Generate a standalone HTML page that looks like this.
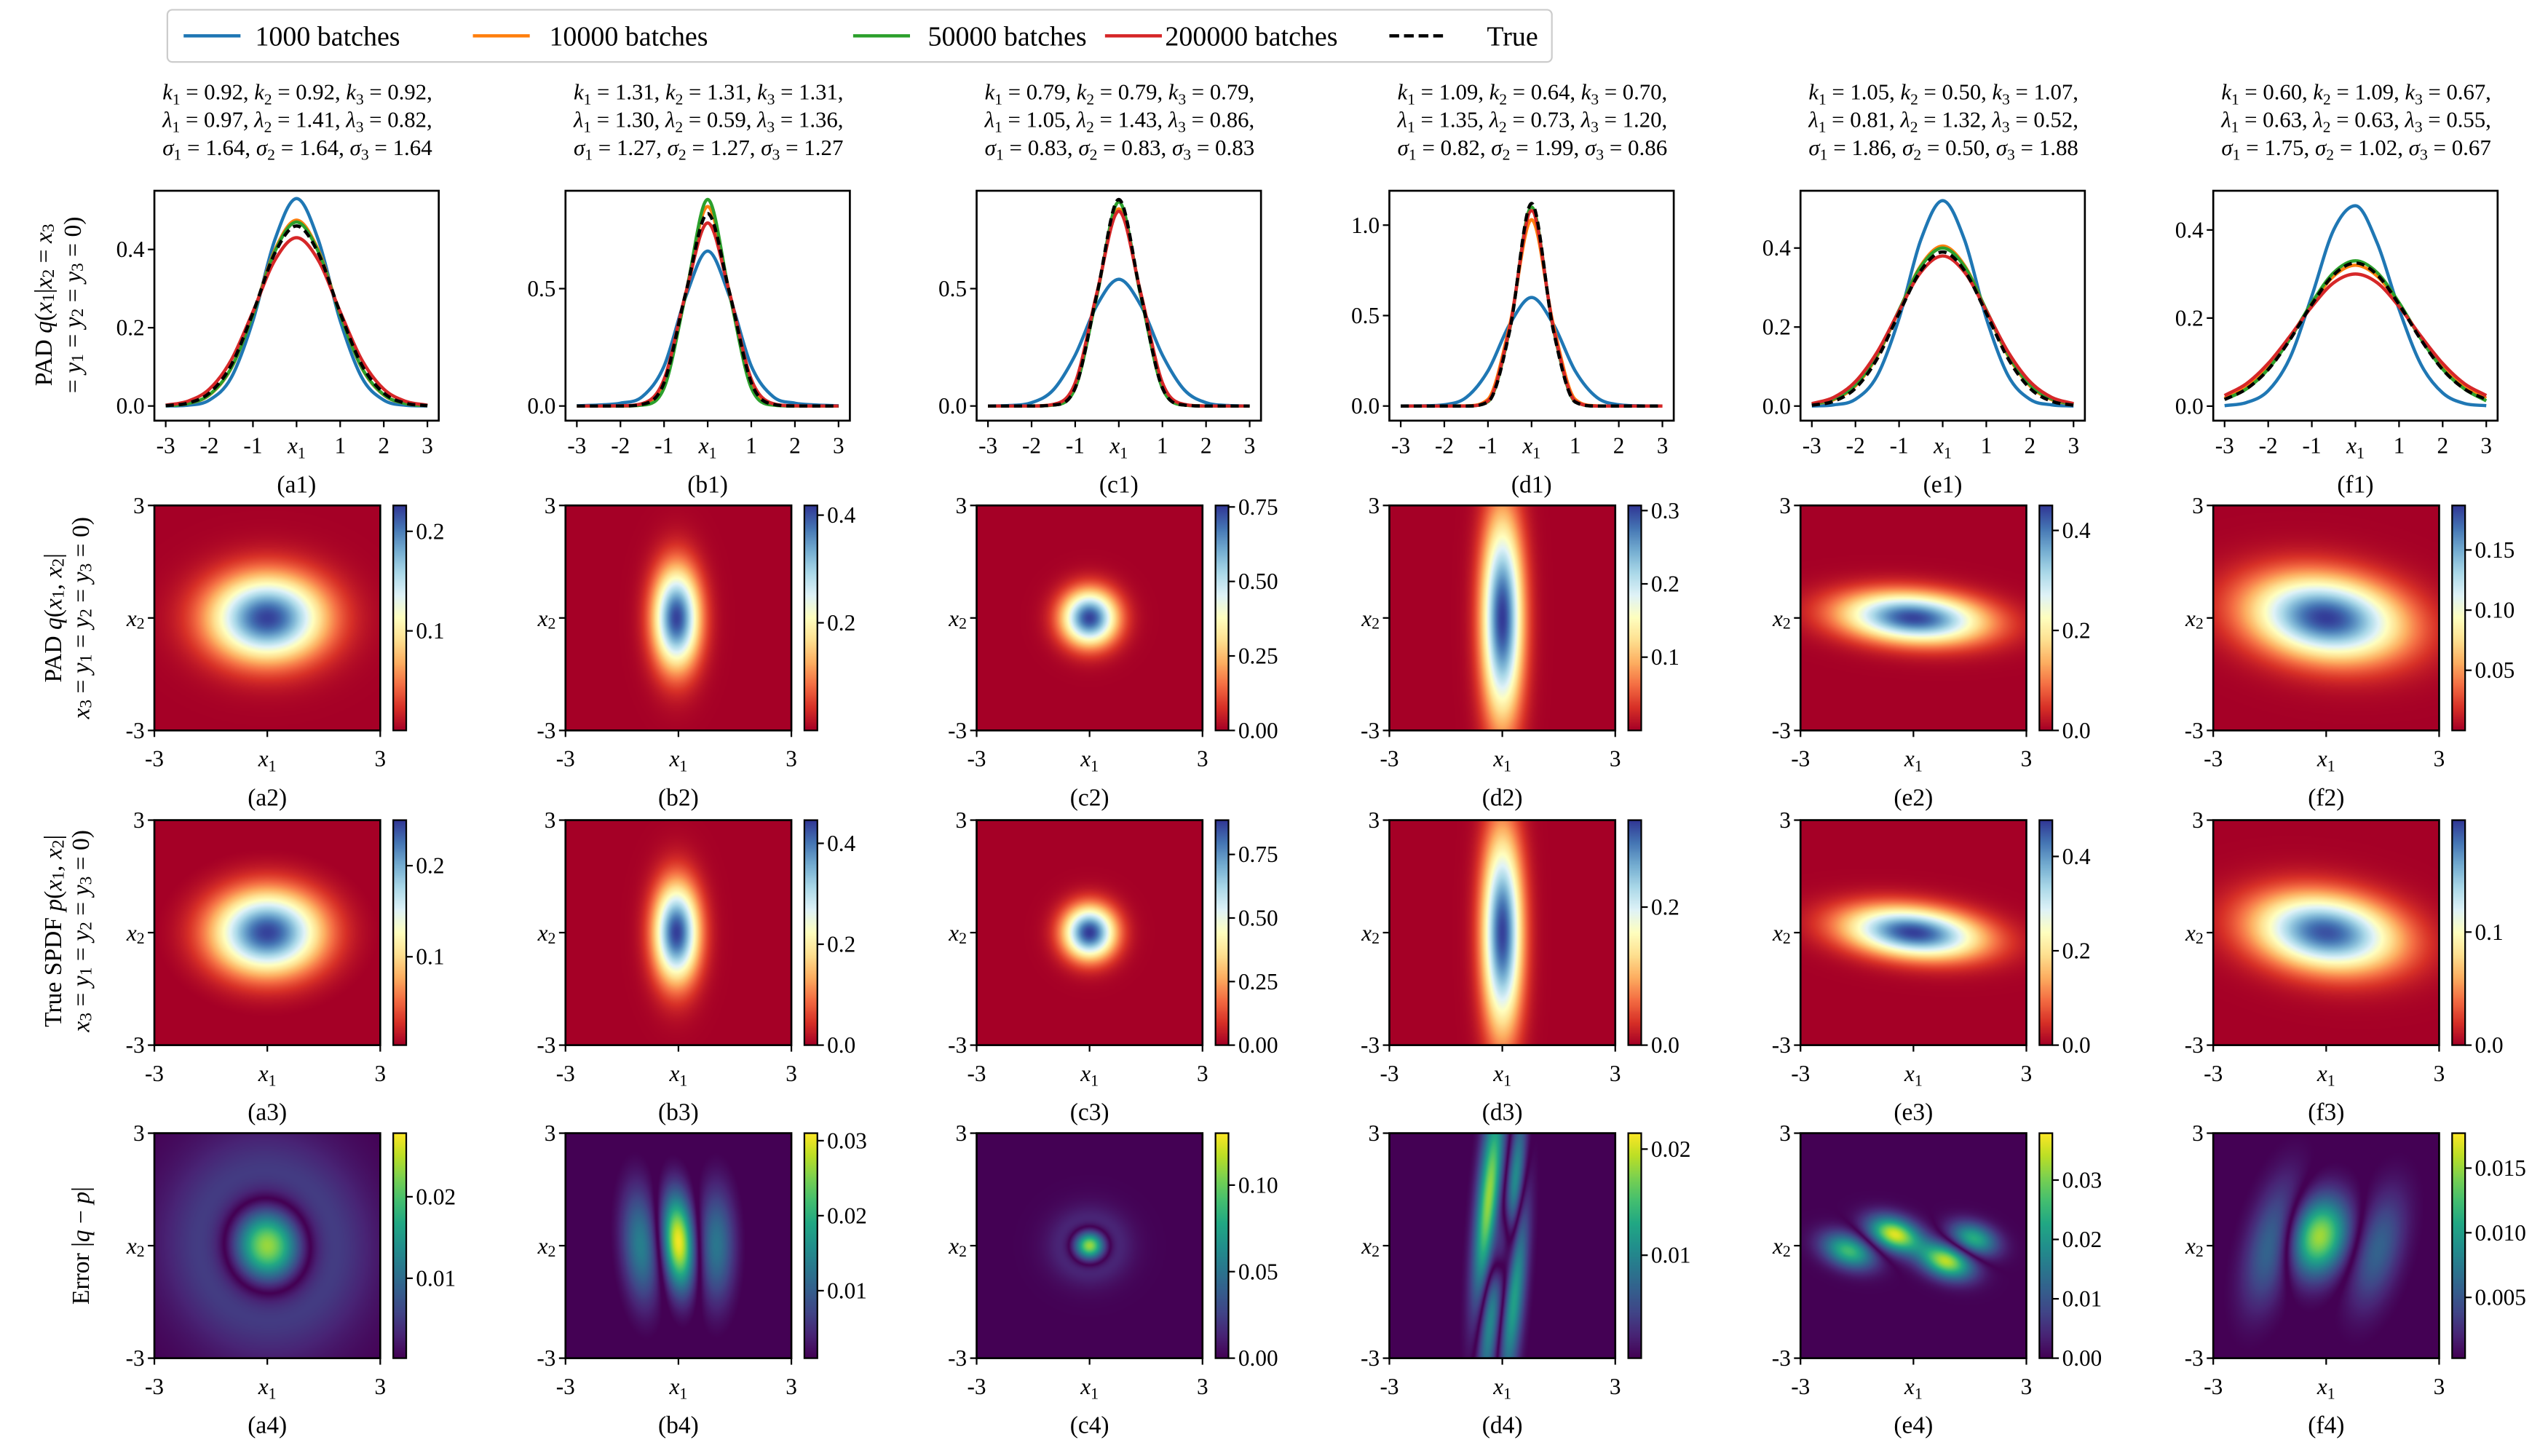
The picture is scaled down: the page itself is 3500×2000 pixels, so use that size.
<!DOCTYPE html>
<html><head><meta charset="utf-8">
<style>
html,body{margin:0;padding:0;background:#fff;}
body{width:3500px;height:2000px;overflow:hidden;position:relative;}
#root{position:absolute;left:0;top:0;width:1568px;height:893px;transform:scale(2.232143,2.239642);transform-origin:0 0;}
#root canvas{position:absolute;}
#svg{position:absolute;left:0;top:0;}
text{font-family:"Liberation Serif","DejaVu Serif",serif;fill:#000;}
</style></head>
<body>
<div id="root">
<svg id="svg" width="1568" height="893" viewBox="0 0 1568 893" xmlns="http://www.w3.org/2000/svg"></svg>
</div>
<script>
// ---------------- data ----------------
const xGrid = [-3,-2.5,-2,-1.5,-1,-0.5,0,0.5,1,1.5,2,2.5,3];
const seriesLabels = ['1000 batches','10000 batches','50000 batches','200000 batches','True'];
const curveBlue = [
 [0,.002,.015,.072,.218,.424,.53,.424,.218,.072,.015,.002,0],
 [.001,.004,.012,.04,.17,.467,.66,.467,.17,.04,.012,.004,.001],
 [0,.002,.014,.069,.217,.43,.54,.43,.217,.069,.014,.002,0],
 [0,.001,.007,.047,.194,.452,.60,.452,.194,.047,.007,.001,0],
 [0,.003,.017,.077,.222,.421,.52,.421,.222,.077,.017,.003,0],
 [.001,.008,.035,.11,.25,.40,.455,.37,.22,.095,.03,.006,.001]];
const curveOrange = [
 [.001,.006,.028,.096,.234,.398,.475,.398,.234,.096,.028,.006,.001],
 [0,0,0,.005,.088,.483,.85,.483,.088,.005,0,0,0],
 [0,0,0,.006,.091,.483,.84,.483,.091,.006,0,0,0],
 [0,0,0,.001,.037,.448,1.03,.448,.037,.001,0,0,0],
 [.004,.016,.051,.127,.242,.356,.405,.356,.242,.127,.051,.016,.004],
 [.018,.043,.089,.156,.232,.295,.32,.295,.232,.156,.089,.043,.018]];
const curveGreen = [
 [.001,.006,.029,.097,.233,.394,.47,.394,.233,.097,.029,.006,.001],
 [0,0,0,.004,.077,.478,.88,.478,.077,.004,0,0,0],
 [0,0,0,.004,.076,.472,.87,.472,.076,.004,0,0,0],
 [0,0,0,0,.024,.425,1.10,.425,.024,0,0,0,0],
 [.004,.018,.054,.130,.243,.353,.40,.353,.243,.130,.054,.018,.004],
 [.015,.039,.084,.153,.235,.303,.33,.303,.235,.153,.084,.039,.012]];
const curveRed = [
 [.002,.012,.043,.117,.241,.372,.43,.372,.241,.117,.043,.012,.002],
 [0,0,.001,.010,.114,.482,.78,.482,.114,.010,.001,0,0],
 [0,0,0,.007,.099,.484,.83,.484,.099,.007,0,0,0],
 [0,0,0,0,.028,.434,1.08,.434,.028,0,0,0,0],
 [.006,.022,.062,.137,.241,.339,.38,.339,.241,.137,.062,.022,.006],
 [.024,.051,.097,.159,.226,.280,.30,.280,.226,.159,.097,.051,.024]];
const curveTrue = [
 [.001,.007,.033,.104,.238,.390,.46,.390,.238,.104,.033,.007,.001],
 [0,0,0,.007,.099,.484,.82,.484,.099,.007,0,0,0],
 [0,0,0,.004,.077,.478,.88,.478,.077,.004,0,0,0],
 [0,0,0,0,.022,.418,1.12,.418,.022,0,0,0,0],
 [.002,.012,.045,.12,.235,.343,.39,.343,.235,.12,.045,.012,.002],
 [.015,.039,.083,.151,.231,.298,.325,.298,.231,.151,.083,.039,.015]];
const yDomain1 = [[-0.0375,0.55],[-0.0625,0.917],[-0.0625,0.917],[-0.081,1.19],[-0.037,0.545],[-0.033,0.489]];
const yTicks1 = [[0,0.2,0.4],[0,0.5],[0,0.5],[0,0.5,1.0],[0,0.2,0.4],[0,0.2,0.4]];
const yTickLabels1 = [['0.0','0.2','0.4'],['0.0','0.5'],['0.0','0.5'],['0.0','0.5','1.0'],['0.0','0.2','0.4'],['0.0','0.2','0.4']];
const xTicks1 = [-3,-2,-1,0,1,2,3];
const xTickLabels1 = ['-3','-2','-1','x1','1','2','3'];

// blobs: [cx, cy, sigmaX, sigmaY, amplitude, angleDeg]  (data units)
const qBlobs = [
 [[0,0,1.05,0.78,0.222,0]],
 [[-0.05,0,0.42,0.92,0.41,0]],
 [[0,0,0.5,0.5,0.74,0]],
 [[0,0,0.37,1.85,0.305,0]],
 [[0,0,1.3,0.45,0.44,-4]],
 [[0,0,1.4,0.75,0.185,-8]]];
const pBlobs = [
 [[0,0,1.0,0.76,0.245,0]],
 [[-0.05,0,0.41,0.9,0.44,0]],
 [[0,0,0.47,0.48,0.88,0]],
 [[0,0,0.36,1.8,0.32,0]],
 [[0,0,1.25,0.45,0.47,-6]],
 [[0,0,1.32,0.68,0.19,-8]]];
const errBlobs = [
 [[0,0,0.7,0.78,0.036,10],[0,0,1.55,1.7,-0.0125,10]],
 [[0,0.1,0.3,0.9,0.031,4],[-1.0,0,0.35,1.1,-0.014,4],[1.0,0,0.35,1.1,-0.013,0]],
 [[0,0,0.3,0.28,0.15,0],[0,0,0.62,0.58,-0.04,0]],
 [[-0.35,1.1,0.22,2.0,0.02,-5],[0.32,1.2,0.16,1.6,-0.014,-5],[-0.3,-1.4,0.2,1.8,-0.014,-5],[0.3,-1.2,0.2,1.8,0.014,-5],[0,0,0.2,0.8,0.01,-10]],
 [[-0.5,0.3,0.5,0.3,0.036,-20],[-1.72,-0.14,0.5,0.3,-0.026,-20],[0.87,-0.41,0.5,0.3,0.034,-20],[1.6,0.18,0.45,0.28,-0.024,-20]],
 [[-0.2,0.25,0.55,0.75,0.0155,-15],[-1.4,0.1,0.45,1.2,-0.007,-15],[1.35,-0.1,0.45,1.1,-0.006,-15]]];

const cbarRange2 = [[0,0.226],[0,0.418],[0,0.755],[0,0.307],[0,0.45],[0,0.187]];
const cbarRange3 = [[0.003,0.25],[0,0.446],[0,0.885],[0,0.326],[0,0.477],[0,0.199]];
const cbarRange4 = [[0.0002,0.0278],[0.001,0.031],[0,0.130],[0.0003,0.0215],[0,0.0379],[0.0003,0.0177]];
const cbarTicks2 = [[0.1,0.2],[0.2,0.4],[0,0.25,0.5,0.75],[0.1,0.2,0.3],[0,0.2,0.4],[0.05,0.10,0.15]];
const cbarLabels2 = [['0.1','0.2'],['0.2','0.4'],['0.00','0.25','0.50','0.75'],['0.1','0.2','0.3'],['0.0','0.2','0.4'],['0.05','0.10','0.15']];
const cbarTicks3 = [[0.1,0.2],[0,0.2,0.4],[0,0.25,0.5,0.75],[0,0.2],[0,0.2,0.4],[0,0.1]];
const cbarLabels3 = [['0.1','0.2'],['0.0','0.2','0.4'],['0.00','0.25','0.50','0.75'],['0.0','0.2'],['0.0','0.2','0.4'],['0.0','0.1']];
const cbarTicks4 = [[0.01,0.02],[0.01,0.02,0.03],[0,0.05,0.10],[0.01,0.02],[0,0.01,0.02,0.03],[0.005,0.010,0.015]];
const cbarLabels4 = [['0.01','0.02'],['0.01','0.02','0.03'],['0.00','0.05','0.10'],['0.01','0.02'],['0.00','0.01','0.02','0.03'],['0.005','0.010','0.015']];

const paramK = [['0.92','0.92','0.92'],['1.31','1.31','1.31'],['0.79','0.79','0.79'],['1.09','0.64','0.70'],['1.05','0.50','1.07'],['0.60','1.09','0.67']];
const paramL = [['0.97','1.41','0.82'],['1.30','0.59','1.36'],['1.05','1.43','0.86'],['1.35','0.73','1.20'],['0.81','1.32','0.52'],['0.63','0.63','0.55']];
const paramS = [['1.64','1.64','1.64'],['1.27','1.27','1.27'],['0.83','0.83','0.83'],['0.82','1.99','0.86'],['1.86','0.50','1.88'],['1.75','1.02','0.67']];

// ---------------- layout ----------------
const letters = ['a','b','c','d','e','f'];
const colLeft = [95,348,601,855,1108,1362];
const seriesColors = ['#1f77b4','#ff7f0e','#2ca02c','#d62728','#000000'];
const L1 = {top:117, h:141, w:175};
const heatTop = [310,503,695];
const HW = 139, HH = 138;
const NS = 'http://www.w3.org/2000/svg';
const svg = document.getElementById('svg');
const root = document.getElementById('root');

function mk(tag, attrs, parent){
  const el = document.createElementNS(NS, tag);
  for (const k in attrs) el.setAttribute(k, attrs[k]);
  (parent||svg).appendChild(el);
  return el;
}
const I = s => `<tspan font-style="italic">${s}</tspan>`;
const S = (d,sh) => `<tspan dy="${sh||3}" font-size="70%">${d}</tspan><tspan dy="-${sh||3}">\u200b</tspan>`;

const RDYLBU = ['#a50026','#d73027','#f46d43','#fdae61','#fee090','#ffffbf','#e0f3f8','#abd9e9','#74add1','#4575b4','#313695'];
const VIRIDIS = ['#440154','#482475','#414487','#355f8d','#2a788e','#21918c','#22a884','#44bf70','#7ad151','#bddf26','#fde725'];
function hex(h){return [parseInt(h.substr(1,2),16),parseInt(h.substr(3,2),16),parseInt(h.substr(5,2),16)];}
const RDY = RDYLBU.map(hex), VIR = VIRIDIS.map(hex);
function cmap(stops,t){
  t = Math.max(0,Math.min(1,t));
  const n = stops.length-1, i = Math.min(n-1,Math.floor(t*n)), f = t*n-i;
  const a = stops[i], b = stops[i+1];
  return [a[0]+(b[0]-a[0])*f, a[1]+(b[1]-a[1])*f, a[2]+(b[2]-a[2])*f];
}
function field(blobs,x,y){
  let v=0;
  for (const b of blobs){
    const th=b[5]*Math.PI/180, dx=x-b[0], dy=y-b[1];
    const u=dx*Math.cos(th)+dy*Math.sin(th), w=-dx*Math.sin(th)+dy*Math.cos(th);
    v += b[4]*Math.exp(-(u*u/(2*b[2]*b[2])+w*w/(2*b[3]*b[3])));
  }
  return v;
}

// ---------------- legend ----------------
const legend = mk('g',{});


const lbox = mk('rect',{x:103,y:6,width:852,height:32,rx:3,fill:'#fff',stroke:'#cccccc','stroke-width':1},legend);


const legLineX = [113,291,525,680,855];
const legTextX = [157,338,571,717,915];
for (let s=0;s<5;s++){
  const ln = mk('line',{x1:legLineX[s],x2:legLineX[s]+35,y1:22,y2:22,stroke:seriesColors[s],'stroke-width':2,'stroke-dasharray':s==4?'6,3':'none'},legend);
  
  
  const tx = mk('text',{x:legTextX[s],y:28,'font-size':17},legend);
  
  
  tx.textContent = seriesLabels[s];
}

// ---------------- row labels ----------------
function rowLabel(x,cy,html,name){
  const t = mk('text',{transform:`translate(${x},${cy}) rotate(-90)`,'text-anchor':'middle','dominant-baseline':'central','font-size':15});
  
  
  t.innerHTML = html;
}
rowLabel(27,187,`PAD ${I('q')}(${I('x')}${S(1)}|${I('x')}${S(2)} = ${I('x')}${S(3)}`,'row1-label-line1');
rowLabel(45,187,`= ${I('y')}${S(1)} = ${I('y')}${S(2)} = ${I('y')}${S(3)} = 0)`,'row1-label-line2');
rowLabel(33,379,`PAD ${I('q')}(${I('x')}${S(1)}, ${I('x')}${S(2)}|`,'row2-label-line1');
rowLabel(50,379,`${I('x')}${S(3)} = ${I('y')}${S(1)} = ${I('y')}${S(2)} = ${I('y')}${S(3)} = 0)`,'row2-label-line2');
rowLabel(33,571,`True SPDF ${I('p')}(${I('x')}${S(1)}, ${I('x')}${S(2)}|`,'row3-label-line1');
rowLabel(50,571,`${I('x')}${S(3)} = ${I('y')}${S(1)} = ${I('y')}${S(2)} = ${I('y')}${S(3)} = 0)`,'row3-label-line2');
rowLabel(50,764,`Error |${I('q')} \u2212 ${I('p')}|`,'row4-label');

// ---------------- monotone path ----------------
function monotonePath(px,py){
  const n=px.length, d=[], m=new Array(n);
  for(let i=0;i<n-1;i++) d.push((py[i+1]-py[i])/(px[i+1]-px[i]));
  m[0]=d[0]; m[n-1]=d[n-2];
  for(let i=1;i<n-1;i++){ m[i] = (d[i-1]*d[i]<=0)?0:(d[i-1]+d[i])/2; }
  for(let i=0;i<n-1;i++){
    if(d[i]===0){m[i]=0;m[i+1]=0;continue;}
    const a=m[i]/d[i], b=m[i+1]/d[i], s=a*a+b*b;
    if(s>9){const t=3/Math.sqrt(s); m[i]=t*a*d[i]; m[i+1]=t*b*d[i];}
  }
  let p=`M${px[0]},${py[0]}`;
  for(let i=0;i<n-1;i++){
    const h=(px[i+1]-px[i])/3;
    p+=`C${px[i]+h},${py[i]+m[i]*h} ${px[i+1]-h},${py[i+1]-m[i+1]*h} ${px[i+1]},${py[i+1]}`;
  }
  return p;
}

// ---------------- parameters text ----------------
for (let c=0;c<6;c++){
  const cx = colLeft[c]+88;
  const lines = [
    `${I('k')}${S(1)} = ${paramK[c][0]}, ${I('k')}${S(2)} = ${paramK[c][1]}, ${I('k')}${S(3)} = ${paramK[c][2]},`,
    `${I('λ')}${S(1)} = ${paramL[c][0]}, ${I('λ')}${S(2)} = ${paramL[c][1]}, ${I('λ')}${S(3)} = ${paramL[c][2]},`,
    `${I('σ')}${S(1)} = ${paramS[c][0]}, ${I('σ')}${S(2)} = ${paramS[c][1]}, ${I('σ')}${S(3)} = ${paramS[c][2]}`];
  for (let l=0;l<3;l++){
    const t = mk('text',{x:cx-83,y:61+l*17,'font-size':13.5,textLength:166,lengthAdjust:'spacingAndGlyphs'});
    
    
    t.innerHTML = lines[l];
  }
}

// ---------------- row 1 line plots ----------------
for (let c=0;c<6;c++){
  const L = colLeft[c], T = L1.top, B = T+L1.h, R = L+L1.w;
  const xs = v => L + (v+3.26)/6.52*L1.w;
  const ys = v => B - (v-yDomain1[c][0])/(yDomain1[c][1]-yDomain1[c][0])*L1.h;
  const g = mk('g',{});
  
  
  const clipId='clip1'+c;
  const cp = mk('clipPath',{id:clipId},g);
  mk('rect',{x:L,y:T,width:L1.w,height:L1.h},cp);
  const series=[curveBlue[c],curveOrange[c],curveGreen[c],curveRed[c],curveTrue[c]];
  for (let s=0;s<5;s++){
    const px=xGrid.map(xs), py=series[s].map(ys);
    const path = mk('path',{d:monotonePath(px,py),fill:'none',stroke:seriesColors[s],'stroke-width':2,'stroke-dasharray':s==4?'5,3':'none','clip-path':`url(#${clipId})`},g);
    
    
  }
  const fr = mk('rect',{x:L,y:T,width:L1.w,height:L1.h,fill:'none',stroke:'#000','stroke-width':1.2},g);
  
  
  xTicks1.forEach((v,i)=>{
    const x=xs(v);
    mk('line',{x1:x,x2:x,y1:B,y2:B+4,stroke:'#000','stroke-width':1},g);
    const t = mk('text',{x:x,y:B+20,'text-anchor':'middle','font-size':14},g);
    
    
    if (xTickLabels1[i]==='x1') t.innerHTML = `${I('x')}${S(1)}`; else t.textContent = xTickLabels1[i];
  });
  yTicks1[c].forEach((v,i)=>{
    const y=ys(v);
    mk('line',{x1:L-4,x2:L,y1:y,y2:y,stroke:'#000','stroke-width':1},g);
    const t = mk('text',{x:L-6,y:y,'text-anchor':'end','dominant-baseline':'central','font-size':14},g);
    
    
    t.textContent = yTickLabels1[c][i];
  });
  const pl = mk('text',{x:L+L1.w/2,y:B+44,'text-anchor':'middle','font-size':15},g);
  
  
  pl.textContent = `(${letters[c]}1)`;
}

// ---------------- heatmaps ----------------
const rowsSpec = [
  {blobs:qBlobs, range:cbarRange2, ticks:cbarTicks2, labels:cbarLabels2, cm:RDY, abs:false},
  {blobs:pBlobs, range:cbarRange3, ticks:cbarTicks3, labels:cbarLabels3, cm:RDY, abs:false},
  {blobs:errBlobs, range:cbarRange4, ticks:cbarTicks4, labels:cbarLabels4, cm:VIR, abs:true}];
const RES = 240;
rowsSpec.forEach((spec,r)=>{
  for (let c=0;c<6;c++){
    const L=colLeft[c], T=heatTop[r], B=T+HH, R=L+HW;
    const lo=spec.range[c][0], hi=spec.range[c][1];
    const cv=document.createElement('canvas');
    
    
    cv.width=RES; cv.height=RES;
    cv.style.left=L+'px'; cv.style.top=T+'px'; cv.style.width=HW+'px'; cv.style.height=HH+'px';
    root.insertBefore(cv, svg);
    const ctx=cv.getContext('2d'), img=ctx.createImageData(RES,RES);
    for(let j=0;j<RES;j++){
      const y=3-(j+0.5)/RES*6;
      for(let i=0;i<RES;i++){
        const x=-3+(i+0.5)/RES*6;
        let v=field(spec.blobs[c],x,y);
        if(spec.abs) v=Math.abs(v);
        const col=cmap(spec.cm,(v-lo)/(hi-lo));
        const k=(j*RES+i)*4;
        img.data[k]=col[0]; img.data[k+1]=col[1]; img.data[k+2]=col[2]; img.data[k+3]=255;
      }
    }
    ctx.putImageData(img,0,0);
    const cbx=L+HW+8, cbw=8;
    const cb=document.createElement('canvas');
    
    
    cb.width=4; cb.height=200;
    cb.style.left=cbx+'px'; cb.style.top=T+'px'; cb.style.width=cbw+'px'; cb.style.height=HH+'px';
    root.insertBefore(cb, svg);
    const cctx=cb.getContext('2d');
    for(let j=0;j<200;j++){
      const col=cmap(spec.cm,1-(j+0.5)/200);
      cctx.fillStyle=`rgb(${col[0]|0},${col[1]|0},${col[2]|0})`;
      cctx.fillRect(0,j,4,1);
    }
    const g=mk('g',{});
    
    
    const fr=mk('rect',{x:L,y:T,width:HW,height:HH,fill:'none',stroke:'#000','stroke-width':1.2},g);
    
    
    const cf=mk('rect',{x:cbx,y:T,width:cbw,height:HH,fill:'none',stroke:'#000','stroke-width':1},g);
    
    
    const hx=v=>L+(v+3)/6*HW, hy=v=>B-(v+3)/6*HH;
    [[-3,'-3'],[0,'x'],[3,'3']].forEach(([v,lab])=>{
      const x=hx(v);
      mk('line',{x1:x,x2:x,y1:B,y2:B+4,stroke:'#000','stroke-width':1},g);
      const t=mk('text',{x:x,y:B+22,'text-anchor':'middle','font-size':14},g);
      
      
      if(lab==='x') t.innerHTML=`${I('x')}${S(1)}`; else t.textContent=lab;
      const y=hy(v);
      mk('line',{x1:L-4,x2:L,y1:y,y2:y,stroke:'#000','stroke-width':1},g);
      const t2=mk('text',{x:L-6,y:y,'text-anchor':'end','dominant-baseline':'central','font-size':14},g);
      
      
      if(lab==='x') t2.innerHTML=`${I('x')}${S(2)}`; else t2.textContent=lab;
    });
    spec.ticks[c].forEach((v,i)=>{
      const y=T+HH-(v-lo)/(hi-lo)*HH;
      mk('line',{x1:cbx+cbw,x2:cbx+cbw+4,y1:y,y2:y,stroke:'#000','stroke-width':1},g);
      const t=mk('text',{x:cbx+cbw+6,y:y,'dominant-baseline':'central','font-size':14},g);
      
      
      t.textContent=spec.labels[c][i];
    });
    const pl=mk('text',{x:L+HW/2,y:B+46,'text-anchor':'middle','font-size':15},g);
    
    
    pl.textContent=`(${letters[c]}${r+2})`;
  }
});
</script>
</body></html>
